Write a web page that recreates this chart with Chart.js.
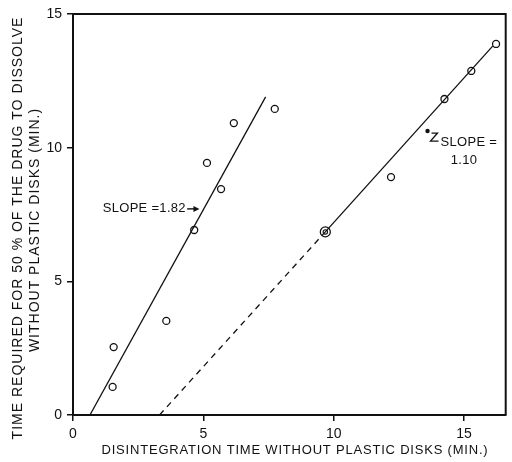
<!DOCTYPE html>
<html>
<head>
<meta charset="utf-8">
<script src="https://cdn.jsdelivr.net/npm/chart.js@4.4.1/dist/chart.umd.min.js"></script>
<style>
  html, body { margin: 0; padding: 0; background: #fff; }
  #wrap { width: 512px; height: 462px; }
</style>
</head>
<body>
<div id="wrap"><canvas id="c" width="512" height="462"></canvas></div>
<script>
// Axis ranges and tick labels
const xTickValues = [0, 5, 10, 15];
const yTickValues = [0, 5, 10, 15];
const xRange = [0, 16.6];
const yRange = [0, 15];

// Tablets with the steep relationship (slope 1.82)
const groupAX = [1.52, 1.56, 3.58, 4.65, 5.68, 5.14, 6.17, 7.74];
const groupAY = [1.05, 2.54, 3.52, 6.92, 8.45, 9.43, 10.92, 11.45];

// Tablets with the shallow relationship (slope 1.10)
const groupBX = [9.68, 12.2, 14.25, 15.28, 16.23];
const groupBY = [6.85, 8.9, 11.82, 12.87, 13.88];

// Fitted lines (end points)
const fitAX = [0.65, 7.39];
const fitAY = [0, 11.9];
const fitBDashX = [3.32, 9.68];
const fitBDashY = [0, 6.85];
const fitBSolidX = [9.68, 16.1];
const fitBSolidY = [6.85, 13.8];

// Slope captions
const slopeA = { text: 'SLOPE =1.82', x: 1.14, y: 7.71, arrowFrom: 4.38, arrowTo: 4.85 };
const slopeB = { line1: 'SLOPE =', line2: '1.10', x: 14.1, y: 10.21, x2: 15.0, y2: 9.54 };

const xTitle = 'DISINTEGRATION TIME WITHOUT PLASTIC DISKS (MIN.)';
const yTitle = ['TIME REQUIRED FOR 50 % OF THE DRUG TO DISSOLVE', 'WITHOUT PLASTIC DISKS (MIN.)'];

const INK = '#111';
const FONT = '"Liberation Sans", Arial, sans-serif';

const toPoints = (xs, ys) => xs.map((v, i) => ({ x: v, y: ys[i] }));

const captions = {
  id: 'captions',
  beforeInit(chart) { chart.ctx.letterSpacing = '0px'; },
  afterDraw(chart) {
    const { ctx, chartArea: a, scales: { x, y } } = chart;
    ctx.save();
    ctx.strokeStyle = INK;
    ctx.fillStyle = INK;

    // top and right frame
    ctx.lineWidth = 2;
    ctx.beginPath();
    ctx.moveTo(a.left, a.top);
    ctx.lineTo(a.right, a.top);
    ctx.lineTo(a.right, a.bottom);
    ctx.stroke();

    // axis titles
    ctx.textBaseline = 'middle';
    ctx.textAlign = 'center';
    ctx.font = '13px ' + FONT;
    ctx.letterSpacing = '0.8px';
    ctx.fillText(xTitle, 295, 450);

    ctx.font = '14px ' + FONT;
    ctx.letterSpacing = '1px';
    ctx.save();
    ctx.translate(18, 228);
    ctx.rotate(-Math.PI / 2);
    ctx.fillText(yTitle[0], 0, 0);
    ctx.restore();
    ctx.save();
    ctx.translate(35, 230);
    ctx.rotate(-Math.PI / 2);
    ctx.fillText(yTitle[1], 0, 0);
    ctx.restore();

    // slope 1.82 caption with arrow
    ctx.letterSpacing = '0.3px';
    ctx.font = '13px ' + FONT;
    ctx.textAlign = 'left';
    const ay = y.getPixelForValue(slopeA.y);
    ctx.fillText(slopeA.text, x.getPixelForValue(slopeA.x), ay);
    const ax0 = x.getPixelForValue(slopeA.arrowFrom);
    const ax1 = x.getPixelForValue(slopeA.arrowTo);
    ctx.lineWidth = 1.4;
    ctx.beginPath();
    ctx.moveTo(ax0, ay);
    ctx.lineTo(ax1 - 4, ay);
    ctx.stroke();
    ctx.beginPath();
    ctx.moveTo(ax1, ay);
    ctx.lineTo(ax1 - 6, ay - 3);
    ctx.lineTo(ax1 - 6, ay + 3);
    ctx.closePath();
    ctx.fill();

    // slope 1.10 caption with bent pointer
    const bx = x.getPixelForValue(slopeB.x);
    const by = y.getPixelForValue(slopeB.y);
    ctx.fillText(slopeB.line1, bx, by);
    ctx.textAlign = 'center';
    ctx.fillText(slopeB.line2, x.getPixelForValue(slopeB.x2), y.getPixelForValue(slopeB.y2));
    ctx.lineWidth = 1.3;
    ctx.beginPath();
    ctx.moveTo(bx - 2, by - 1);
    ctx.lineTo(bx - 10, by - 1);
    ctx.lineTo(bx - 3, by - 9);
    ctx.lineTo(bx - 9, by - 9);
    ctx.stroke();
    ctx.beginPath();
    ctx.arc(bx - 13, by - 11, 2.2, 0, Math.PI * 2);
    ctx.fill();
    ctx.restore();
  }
};

const pointStyle = {
  showLine: false,
  pointStyle: 'circle',
  pointRadius: 3.5,
  pointBorderWidth: 1.3,
  pointBorderColor: INK,
  pointBackgroundColor: 'rgba(255,255,255,0)',
  borderColor: INK,
  backgroundColor: 'rgba(255,255,255,0)'
};

const lineStyle = {
  showLine: true,
  pointRadius: 0,
  borderColor: INK,
  borderWidth: 1.3,
  fill: false,
  tension: 0
};

new Chart(document.getElementById('c'), {
  type: 'scatter',
  data: {
    datasets: [
      { ...lineStyle, label: 'fit A', data: toPoints(fitAX, fitAY) },
      { ...lineStyle, label: 'fit B (extrapolated)', data: toPoints(fitBDashX, fitBDashY), borderDash: [6, 5] },
      { ...lineStyle, label: 'fit B', data: toPoints(fitBSolidX, fitBSolidY) },
      { ...pointStyle, label: 'group A', data: toPoints(groupAX, groupAY) },
      { ...pointStyle, label: 'group B', data: toPoints(groupBX, groupBY),
        pointRadius: groupBX.map((_, i) => i === 0 ? 5 : 3.5) },
      { ...pointStyle, label: 'group B inner', data: toPoints(groupBX.slice(0, 1), groupBY.slice(0, 1)),
        pointRadius: 2.2, pointBorderWidth: 1.1 }
    ]
  },
  options: {
    responsive: false,
    devicePixelRatio: 1,
    animation: false,
    events: [],
    layout: { padding: { left: 0, top: 14, right: 3, bottom: 0 } },
    plugins: { legend: { display: false }, tooltip: { enabled: false }, title: { display: false } },
    scales: {
      x: {
        type: 'linear',
        min: xRange[0],
        max: xRange[1],
        afterBuildTicks: s => { s.ticks = xTickValues.map(v => ({ value: v })); },
        afterFit: s => { s.height = 47; },
        border: { display: true, color: INK, width: 2 },
        grid: { display: true, drawOnChartArea: false, drawTicks: true, tickLength: 6, color: INK, lineWidth: 1.5 },
        ticks: { color: INK, padding: 5, font: { family: FONT, size: 14 }, maxRotation: 0 }
      },
      y: {
        type: 'linear',
        min: yRange[0],
        max: yRange[1],
        afterBuildTicks: s => { s.ticks = yTickValues.map(v => ({ value: v })); },
        afterFit: s => { s.width = 73; },
        border: { display: true, color: INK, width: 2 },
        grid: { display: true, drawOnChartArea: false, drawTicks: true, tickLength: 6, color: INK, lineWidth: 1.5 },
        ticks: { color: INK, padding: 5, font: { family: FONT, size: 14 } }
      }
    }
  },
  plugins: [captions]
});
</script>
</body>
</html>
